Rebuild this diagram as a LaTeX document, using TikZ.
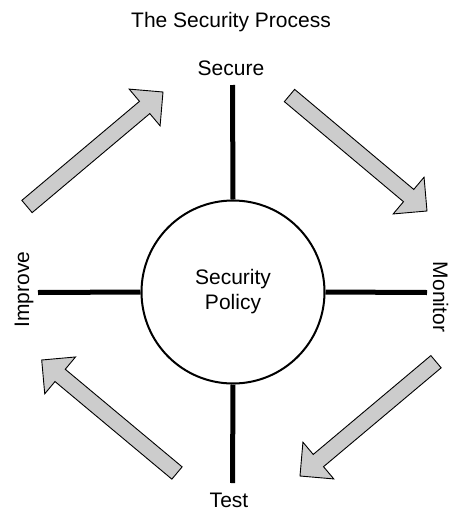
\documentclass[tikz,border=0pt]{standalone}
\usepackage{fontspec}
\setmainfont{Liberation Sans}
\usetikzlibrary{calc}
\tikzset{
  lbl/.style={font=\fontsize{21}{25}\selectfont, inner sep=0pt},
  spoke/.style={line width=5pt, draw=black},
  blockarrowstyle/.style={draw=black, line width=0.9pt, fill=black!20, line join=miter},
  policy/.style={circle, draw=black, line width=2pt, minimum size=183pt, inner sep=0pt,
    align=center, font=\fontsize{21}{25}\selectfont}
}
\newcommand\blockarrow[2]{%
  \path ($(#2)!24pt!(#1)$) coordinate (hb);
  \draw[blockarrowstyle] ($(#1)!8pt!90:(#2)$) -- ($(hb)!8pt!90:(#2)$) -- ($(hb)!24pt!90:(#2)$)
    -- (#2) -- ($(hb)!24pt!-90:(#2)$) -- ($(hb)!8pt!-90:(#2)$) -- ($(#1)!8pt!-90:(#2)$) -- cycle;
}
\begin{document}
\begin{tikzpicture}[x=1pt,y=-1pt]
\useasboundingbox[fill=white] (0,0) rectangle (450,509);
% title
\node[lbl, anchor=base] (title) at (231,27) {The Security Process};
% central circle
\node[policy] (c) at (233,292) {Security\\Policy};
% labels
\node[lbl, anchor=base] (secure) at (231,75) {Secure};
\node[lbl, anchor=base] (test) at (229,507) {Test};
\node[lbl, anchor=base, rotate=90] (improve) at (29,289.5) {Improve};
\node[lbl, anchor=base, rotate=-90] (monitor) at (433,297) {Monitor};
% spoke ends
\coordinate (sN) at (232.5,85);
\coordinate (sS) at (232.5,483);
\coordinate (sW) at (38,292.5);
\coordinate (sE) at (427,292.5);
\draw[spoke] (c.north) -- (sN);
\draw[spoke] (c.south) -- (sS);
\draw[spoke] (c.west) -- (sW);
\draw[spoke] (c.east) -- (sE);
% block arrows
\coordinate (a1t) at (27,206.5);   \coordinate (a1h) at (163,92);
\coordinate (a2t) at (289.5,95.5); \coordinate (a2h) at (427,211);
\coordinate (a3t) at (436,361.7);  \coordinate (a3h) at (300,476);
\coordinate (a4t) at (177,473);    \coordinate (a4h) at (41.7,360);
\blockarrow{a1t}{a1h}
\blockarrow{a2t}{a2h}
\blockarrow{a3t}{a3h}
\blockarrow{a4t}{a4h}
\end{tikzpicture}
\end{document}
